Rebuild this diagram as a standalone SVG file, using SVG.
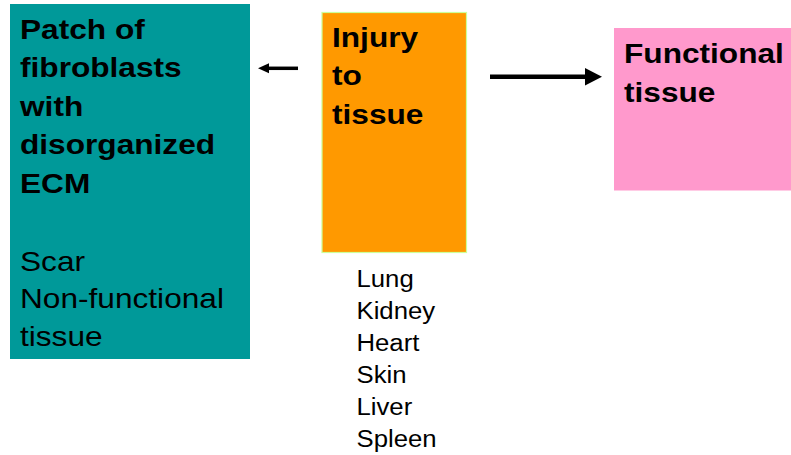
<svg xmlns="http://www.w3.org/2000/svg" width="791" height="455" viewBox="0 0 791 455">
  <style>
    text { font-family: "Liberation Sans", Arial, sans-serif; fill: #000; }
    .b { font-weight: bold; font-size: 28px; }
    .r { font-size: 28px; }
    .list { font-size: 24.5px; }
    .shaft { stroke: #000; fill: none; }
    .head { fill: #000; }
  </style>
  <rect width="791" height="455" fill="#fff"/>

  <g id="scar">
    <rect x="10" y="4" width="240" height="355" fill="#009999"/>
    <g transform="translate(20,0) scale(1.13,1)">
      <text class="b" x="0" y="39">Patch of</text>
      <text class="b" x="0" y="77.5">fibroblasts</text>
      <text class="b" x="0" y="116">with</text>
      <text class="b" x="0" y="154.5">disorganized</text>
      <text class="b" x="0" y="193">ECM</text>
      <text class="r" x="0" y="271">Scar</text>
      <text class="r" x="0" y="308.5">Non-functional</text>
      <text class="r" x="0" y="346">tissue</text>
    </g>
  </g>

  <g id="injury">
    <rect x="322" y="12.5" width="144.5" height="240" fill="#ff9900" stroke="#ccff99" stroke-width="1.2"/>
    <g transform="translate(332,0) scale(1.13,1)">
      <text class="b" x="0" y="47">Injury</text>
      <text class="b" x="0" y="85.5">to</text>
      <text class="b" x="0" y="124">tissue</text>
    </g>
  </g>

  <g id="functional">
    <rect x="614" y="28" width="177" height="162.5" fill="#ff99cc"/>
    <g transform="translate(624,0) scale(1.13,1)">
      <text class="b" x="0" y="63.5">Functional</text>
      <text class="b" x="0" y="102">tissue</text>
    </g>
  </g>

  <g id="organs" transform="translate(356.5,0) scale(1.05,1)">
    <text class="list" x="0" y="287">Lung</text>
    <text class="list" x="0" y="319">Kidney</text>
    <text class="list" x="0" y="351">Heart</text>
    <text class="list" x="0" y="383">Skin</text>
    <text class="list" x="0" y="415">Liver</text>
    <text class="list" x="0" y="447">Spleen</text>
  </g>

  <g id="connectors">
    <line class="shaft" x1="298" y1="68.3" x2="266" y2="68.3" stroke-width="3.5"/>
    <polygon class="head" points="258,68.3 269,63.3 269,73.3"/>
    <line class="shaft" x1="490" y1="76.7" x2="587" y2="76.7" stroke-width="4.5"/>
    <polygon class="head" points="602,76.7 585,68 585,85.4"/>
  </g>
</svg>
